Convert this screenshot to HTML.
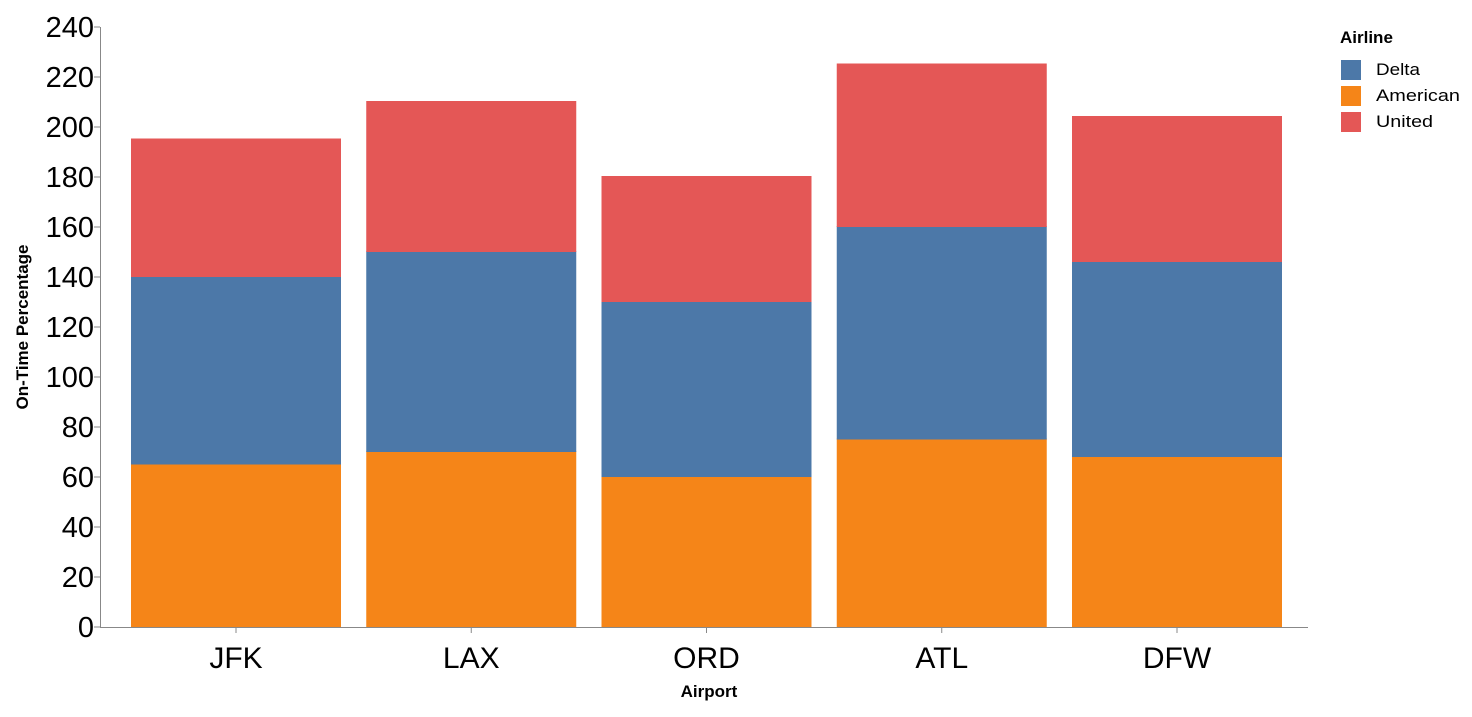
<!DOCTYPE html>
<html><head><meta charset="utf-8"><style>
body{margin:0;background:#fff;}
svg text{font-family:"Liberation Sans",Arial,sans-serif;}
</style></head><body>
<svg id="chart" width="1472" height="712">
<g id="grid"></g><g id="bars"></g><g id="axes"></g>
<g>
<text x="1340" y="43" font-size="17" font-weight="bold" fill="#000">Airline</text>
<rect x="1341" y="60" width="20" height="20" fill="#4c78a8"/>
<text x="1376" y="75" font-size="17" textLength="44" lengthAdjust="spacingAndGlyphs">Delta</text>
<rect x="1341" y="86" width="20" height="20" fill="#f58518"/>
<text x="1376" y="101" font-size="17" textLength="84" lengthAdjust="spacingAndGlyphs">American</text>
<rect x="1341" y="112" width="20" height="20" fill="#e45756"/>
<text x="1376" y="127" font-size="17" textLength="57" lengthAdjust="spacingAndGlyphs">United</text>
</g>
<text x="709" y="697" font-size="17" font-weight="bold" text-anchor="middle">Airport</text>
<text transform="translate(28,327) rotate(-90)" font-size="17" font-weight="bold" text-anchor="middle">On-Time Percentage</text>
</svg>
<script>
const airports=["JFK","LAX","ORD","ATL","DFW"];
const american=[65,70,60,75,68];
const delta=[75,80,70,85,78];
const united=[55,60,50,65,58];
const yTicks=[0,20,40,60,80,100,120,140,160,180,200,220,240];
const NS="http://www.w3.org/2000/svg";
const y=v=>627-v*2.5;
const xc=i=>236+i*235.25;
const bw=210;
const bars=document.getElementById('bars'),axes=document.getElementById('axes');
function mk(tag,attrs,parent){const e=document.createElementNS(NS,tag);for(const k in attrs)e.setAttribute(k,attrs[k]);parent.appendChild(e);return e;}
const series=[["american",american,"#f58518"],["delta",delta,"#4c78a8"],["united",united,"#e45756"]];
airports.forEach((a,i)=>{
  let base=0;
  series.forEach(([n,arr,c])=>{
    const v=arr[i];
    const r=mk('rect',{x:xc(i)-bw/2,y:y(base+v)-1,width:bw,height:v*2.5+1,fill:c},bars);
    
    
    base+=v;
  });
  const t=mk('text',{x:xc(i),y:668,'font-size':30,'text-anchor':'middle',fill:'#000'},axes);
  t.textContent=a;
  
  
  const tk=mk('line',{x1:xc(i),x2:xc(i),y1:627,y2:633,stroke:'#888'},axes);
  
  
});
yTicks.forEach(v=>{
  const tk=mk('line',{x1:94,x2:100,y1:y(v),y2:y(v),stroke:'#888'},axes);
  
  
  const t=mk('text',{x:94,y:y(v)+10,'font-size':29,'text-anchor':'end',fill:'#000'},axes);
  t.textContent=v;
  
  
});
const xa=mk('line',{x1:100,x2:1308,y1:627.5,y2:627.5,stroke:'#888'},axes);


const ya=mk('line',{x1:100.5,x2:100.5,y1:27,y2:627,stroke:'#888'},axes);


</script>
</body></html>
